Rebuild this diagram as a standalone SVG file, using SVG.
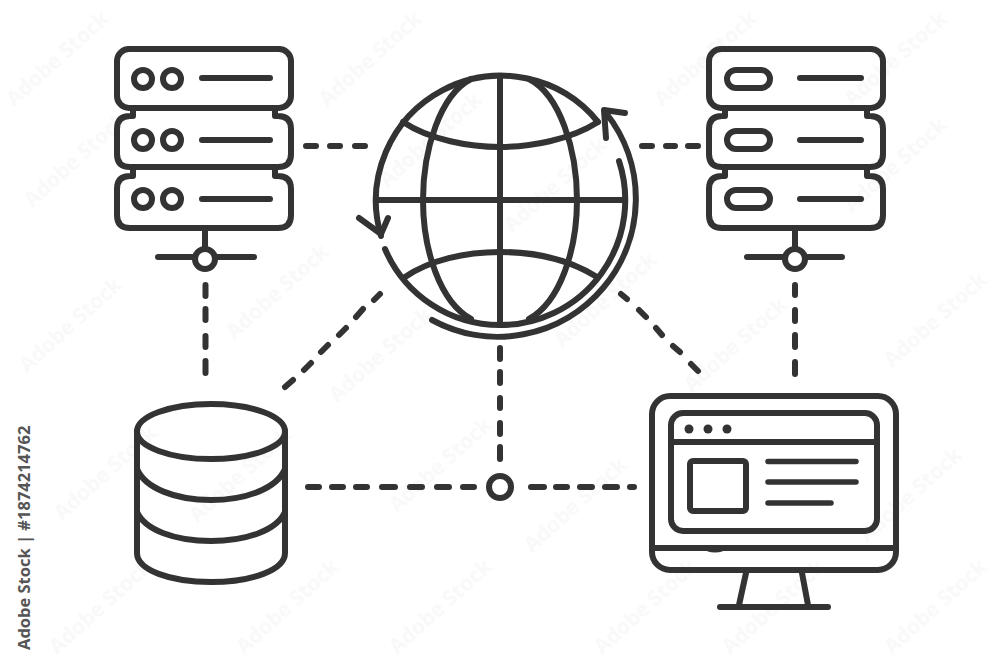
<svg xmlns="http://www.w3.org/2000/svg" width="1000" height="667" viewBox="0 0 1000 667">
<style>
.s{fill:none;stroke:#333;stroke-width:6;stroke-linecap:round;stroke-linejoin:round}
.t{stroke-width:5.500}
.c{fill:none;stroke:#333;stroke-width:6;stroke-linecap:round}
.d{fill:#333;stroke:none}
.w{fill:#f9f9f9;font:bold 21px "Open Sans","Liberation Sans",sans-serif;text-anchor:middle}
.id{fill:#555;font:bold 16.500px "Open Sans","Liberation Sans",sans-serif}
</style>
<rect width="1000" height="667" fill="#fff"/>
<g id="watermarks">
<text class="w" transform="translate(62,64) rotate(-42)">Adobe Stock</text>
<text class="w" transform="translate(375,64) rotate(-42)">Adobe Stock</text>
<text class="w" transform="translate(710,64) rotate(-42)">Adobe Stock</text>
<text class="w" transform="translate(900,64) rotate(-42)">Adobe Stock</text>
<text class="w" transform="translate(80,165) rotate(-42)">Adobe Stock</text>
<text class="w" transform="translate(435,145) rotate(-42)">Adobe Stock</text>
<text class="w" transform="translate(560,190) rotate(-42)">Adobe Stock</text>
<text class="w" transform="translate(900,170) rotate(-42)">Adobe Stock</text>
<text class="w" transform="translate(75,330) rotate(-42)">Adobe Stock</text>
<text class="w" transform="translate(282,297) rotate(-42)">Adobe Stock</text>
<text class="w" transform="translate(385,360) rotate(-42)">Adobe Stock</text>
<text class="w" transform="translate(610,305) rotate(-42)">Adobe Stock</text>
<text class="w" transform="translate(740,350) rotate(-42)">Adobe Stock</text>
<text class="w" transform="translate(940,325) rotate(-42)">Adobe Stock</text>
<text class="w" transform="translate(110,478) rotate(-42)">Adobe Stock</text>
<text class="w" transform="translate(245,480) rotate(-42)">Adobe Stock</text>
<text class="w" transform="translate(445,470) rotate(-42)">Adobe Stock</text>
<text class="w" transform="translate(580,510) rotate(-42)">Adobe Stock</text>
<text class="w" transform="translate(915,500) rotate(-42)">Adobe Stock</text>
<text class="w" transform="translate(105,612) rotate(-42)">Adobe Stock</text>
<text class="w" transform="translate(292,612) rotate(-42)">Adobe Stock</text>
<text class="w" transform="translate(445,612) rotate(-42)">Adobe Stock</text>
<text class="w" transform="translate(650,612) rotate(-42)">Adobe Stock</text>
<text class="w" transform="translate(778,612) rotate(-42)">Adobe Stock</text>
<text class="w" transform="translate(940,612) rotate(-42)">Adobe Stock</text>
</g>
<g id="connectors">
<path class="c" d="M306,146H316M330,146H340M355,146H365"/>
<path class="c" d="M642,146H652M666,146H675M688,146H698"/>
<path class="c" d="M205.500,285V296M205.500,309V320M205.500,336V347M205.500,361V373"/>
<path class="c" d="M795,285V295M795,310V321M795,335V347M795,362V374"/>
<path class="c" d="M380,294L374,300M363,309L356,317M346,328L339,335M328,345L321,352M311,363L304,370M293,380L285,387"/>
<path class="c" d="M621,294L627,299M639,310L646,317M656,328L662,335M673,346L680,352M691,364L698,371"/>
<path class="c" d="M500,348V359M500,372V383M500,398V408M500,423V434M500,447V459"/>
<path class="c" d="M308,487H319M332,487H343M356,487H367M382,487H395M410,487H422M437,487H449M463,487H474"/>
<path class="c" d="M531,487H544M556,487H567M580,487H592M605,487H617M630,487H634"/>
</g>
<g id="globe">
<path class="s" d="M598,122A125,125 0 0 0 381,236"/>
<path class="s" d="M598,122C570,140 530,147 500,147S430,140 403,122"/>
<path class="s" d="M385,249A125,125 0 0 0 500,325A125,125 0 0 0 619,161"/>
<path class="s" d="M405,277C430,260 465,252 500,252S570,260 597,277"/>
<path class="s" d="M471,79C440,95 423,150 423,200S440,302 471,319"/>
<path class="s" d="M529,79C560,95 577,150 577,200S560,302 529,319"/>
<path class="s" d="M500,76V324M376,200H624"/>
<path class="s" d="M432,320A138,138 0 0 0 606,113"/>
<path class="s" d="M606,138L604,110L625,113"/>
<path class="s" d="M359,218L381,234L388,218"/>
</g>
<g id="server-left">
<rect class="s" x="117" y="49" width="174" height="59" rx="12"/>
<path class="s" d="M133,108V116H130Q117,116 117,129V154Q117,167 130,167H278Q291,167 291,154V129Q291,116 278,116H275V108"/>
<path class="s" d="M133,167V176H130Q117,176 117,189V215Q117,228 130,228H278Q291,228 291,215V189Q291,176 278,176H275V167"/>
<circle class="s" cx="143" cy="79" r="9"/><circle class="s" cx="172" cy="79" r="9"/>
<circle class="s" cx="143" cy="140" r="9"/><circle class="s" cx="172" cy="140" r="9"/>
<circle class="s" cx="143" cy="199" r="9"/><circle class="s" cx="172" cy="199" r="9"/>
<path class="s" d="M202,78H270M202,140H270M202,199H270"/>
<path class="s" d="M205,228V248M158,257H194M216,257H254"/>
<circle class="s" cx="205" cy="259" r="10"/>
</g>
<g id="server-right">
<rect class="s" x="709" y="49" width="174" height="59" rx="12"/>
<path class="s" d="M725,108V116H722Q709,116 709,129V154Q709,167 722,167H870Q883,167 883,154V129Q883,116 870,116H867V108"/>
<path class="s" d="M725,167V176H722Q709,176 709,189V215Q709,228 722,228H870Q883,228 883,215V189Q883,176 870,176H867V167"/>
<rect class="s" x="727" y="70" width="43" height="18" rx="9"/>
<rect class="s" x="727" y="131" width="43" height="18" rx="9"/>
<rect class="s" x="727" y="190" width="43" height="18" rx="9"/>
<path class="s" d="M800,78H861M800,140H861M800,199H861"/>
<path class="s" d="M795,228V248M747,257H784M806,257H842"/>
<circle class="s" cx="795" cy="259" r="10"/>
</g>
<g id="database">
<ellipse class="s" cx="211" cy="431.500" rx="74" ry="27.500"/>
<path class="s" d="M137,431V553C137,570 170,582 211,582S285,570 285,553V431"/>
<path class="s" d="M137,469C145,488 175,500 211,500S277,488 285,469"/>
<path class="s" d="M137,512C145,530 175,541 211,541S277,530 285,512"/>
</g>
<g id="junction">
<circle class="s" cx="500" cy="487" r="11"/>
</g>
<g id="monitor">
<rect class="s" x="652" y="396" width="244" height="174" rx="18"/>
<path class="s" d="M652,548H896"/>
<ellipse class="d" cx="715" cy="549" rx="10" ry="3.500"/>
<rect class="s" x="671" y="413" width="206" height="118" rx="12"/>
<path class="s" d="M671,442H877"/>
<circle class="d" cx="689" cy="429" r="4.500"/><circle class="d" cx="708" cy="429" r="4.500"/><circle class="d" cx="727" cy="429" r="4.500"/>
<rect class="s" x="690" y="461" width="56" height="50" rx="3"/>
<path class="s t" d="M768,461.500H856M768,482H856M768,503H831"/>
<path class="s" d="M746,573L739,605M802,573L808,605M720,607H828"/>
</g>
<text class="id" transform="translate(30,650) rotate(-90)">Adobe Stock | #1874214762</text>
</svg>
